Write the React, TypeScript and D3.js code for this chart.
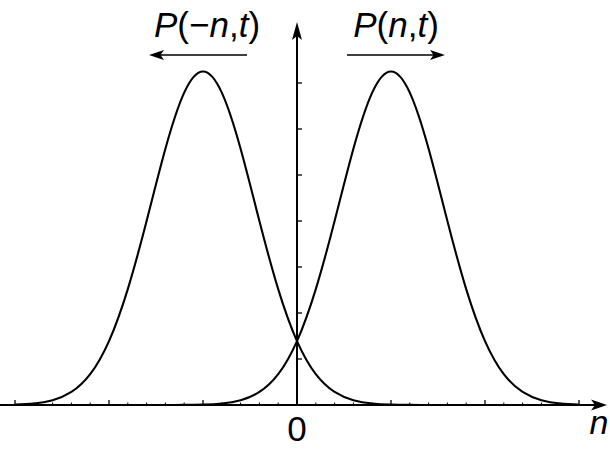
import React from "react";
import * as d3 from "d3";

// sample positions n and values of P(n,t)
const nValues = [-3, -2.8, -2.6, -2.4, -2.2, -2, -1.8, -1.6, -1.4, -1.2, -1, -0.8, -0.6, -0.4, -0.2, 0, 0.2, 0.4, 0.6, 0.8, 1, 1.2, 1.4, 1.6, 1.8, 2, 2.2, 2.4, 2.6, 2.8, 3];
const pValues = [0, 0, 0, 0, 0, 0, 0, 0, 0, 0.0002, 0.001, 0.0034, 0.0105, 0.0284, 0.0671, 0.139, 0.252, 0.4, 0.557, 0.679, 0.725, 0.679, 0.557, 0.4, 0.252, 0.139, 0.0671, 0.0284, 0.0105, 0.0034, 0.001];
const xMajorTicks = [-3, -2, -1, 1, 2, 3];
const xMinorTicks = d3.range(-3, 3.01, 0.2).map((v) => Math.round(v * 10) / 10).filter((v) => Math.abs(v - Math.round(v)) > 1e-6);
const yTicks = [0.1, 0.2, 0.3, 0.4, 0.5, 0.6, 0.7];

const W = 610;
const H = 456;

export default function App() {
  const x = d3.scaleLinear().domain([-3, 3]).range([15, 579]);
  const y = d3.scaleLinear().domain([0, 0.7]).range([405, 83]);
  const right = nValues.map((n, i) => [n, pValues[i]] as [number, number]);
  const left = nValues.map((n, i) => [-n, pValues[i]] as [number, number]).reverse();
  const line = d3
    .line<[number, number]>()
    .x((d) => x(d[0]))
    .y((d) => y(d[1]))
    .curve(d3.curveNatural);
  const x0 = x(0);
  const y0 = y(0);
  const font = "'Liberation Sans', Arial, sans-serif";
  const arrowH = (tx: number, ty: number, dir: number, len: number, hw: number, notch: number) =>
    `M${tx},${ty} L${tx - dir * len},${ty - hw} L${tx - dir * (len - notch)},${ty} L${tx - dir * len},${ty + hw} Z`;
  const arrowV = (tx: number, ty: number, len: number, hw: number, notch: number) =>
    `M${tx},${ty} L${tx - hw},${ty + len} L${tx},${ty + len - notch} L${tx + hw},${ty + len} Z`;
  return (
    <svg width={W} height={H} style={{ position: "absolute", left: 0, top: 0, background: "#fff" }}>
      {/* x axis */}
      <line x1={0} y1={y0} x2={598} y2={y0} stroke="#000" strokeWidth={2} />
      <path d={arrowH(607, y0, 1, 16, 5.5, 4)} fill="#000" />
      {xMajorTicks.map((t) => (
        <line key={"M" + t} x1={x(t)} x2={x(t)} y1={y0} y2={y0 - 5} stroke="#000" strokeWidth={1.3} />
      ))}
      {xMinorTicks.map((t) => (
        <line key={"m" + t} x1={x(t)} x2={x(t)} y1={y0} y2={y0 - 2.5} stroke="#000" strokeWidth={1} />
      ))}
      {/* y axis */}
      <line x1={x0} y1={y0} x2={x0} y2={34} stroke="#000" strokeWidth={2} />
      <path d={arrowV(x0, 22, 18, 5, 4)} fill="#000" />
      {yTicks.map((t) => (
        <line key={"y" + t} x1={x0} x2={x0 + 5} y1={y(t)} y2={y(t)} stroke="#000" strokeWidth={1.3} />
      ))}
      {/* curves */}
      <path d={line(left) || ""} fill="none" stroke="#000" strokeWidth={2.1} />
      <path d={line(right) || ""} fill="none" stroke="#000" strokeWidth={2.1} />
      {/* axis labels */}
      <text x={x0} y={441} textAnchor="middle" fontFamily={font} fontSize={35}>0</text>
      <text x={599} y={434} textAnchor="middle" fontFamily={font} fontSize={34} fontStyle="italic">n</text>
      {/* top labels */}
      <text x={207} y={37} textAnchor="middle" fontFamily={font} fontSize={35}>
        <tspan fontStyle="italic">P</tspan>(−<tspan fontStyle="italic">n</tspan>,<tspan fontStyle="italic">t</tspan>)
      </text>
      <text x={396} y={37} textAnchor="middle" fontFamily={font} fontSize={35}>
        <tspan fontStyle="italic">P</tspan>(<tspan fontStyle="italic">n</tspan>,<tspan fontStyle="italic">t</tspan>)
      </text>
      <line x1={158} y1={55} x2={247} y2={55} stroke="#000" strokeWidth={1.6} />
      <path d={arrowH(149, 55, -1, 15, 5, 3.5)} fill="#000" />
      <line x1={347} y1={55} x2={436} y2={55} stroke="#000" strokeWidth={1.6} />
      <path d={arrowH(445, 55, 1, 15, 5, 3.5)} fill="#000" />
    </svg>
  );
}
